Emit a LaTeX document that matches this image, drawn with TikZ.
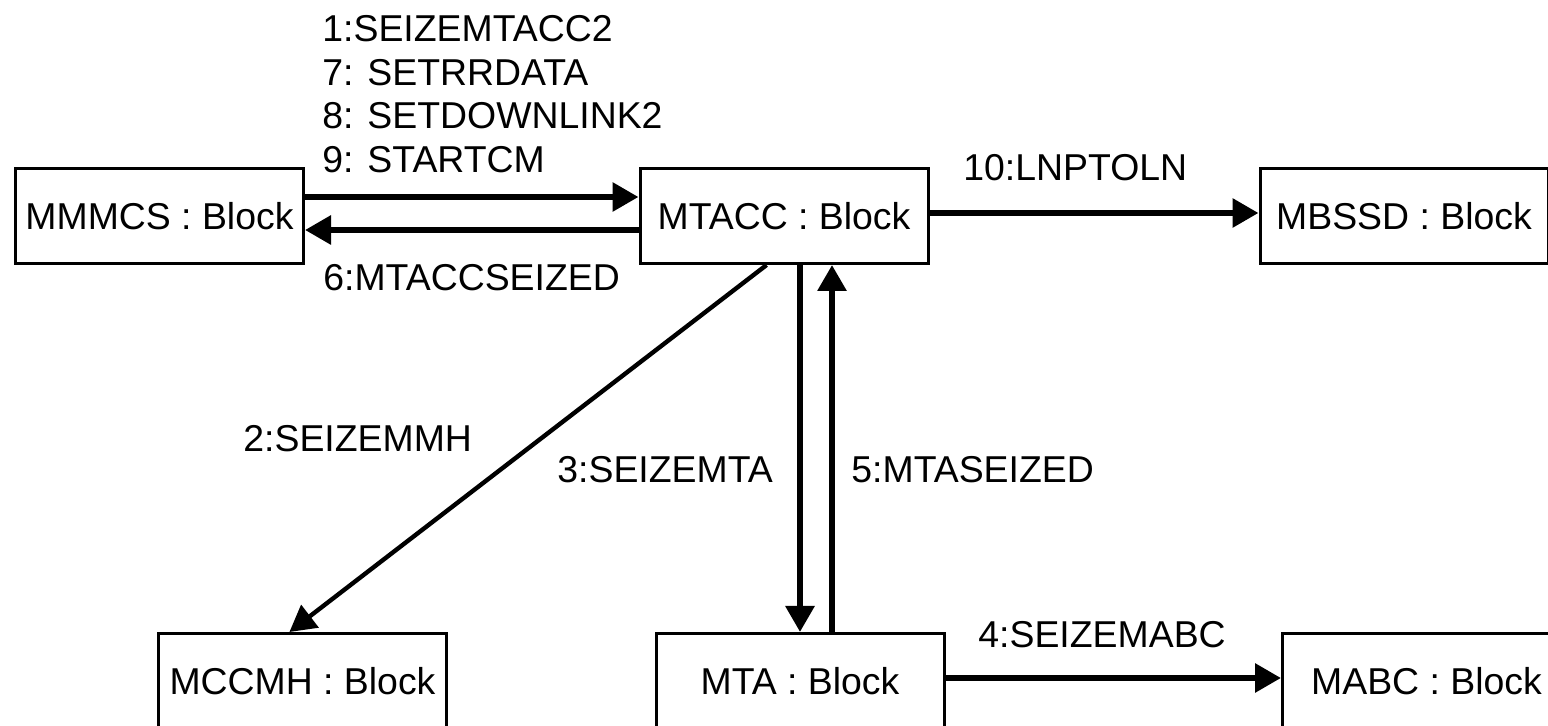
\documentclass[tikz,border=0pt]{standalone}
\usepackage{fontspec}
\setmainfont{Liberation Sans}
\usetikzlibrary{arrows.meta,calc}

\begin{document}
\begin{tikzpicture}[x=0.5pt, y=-0.5pt,
  font=\fontsize{18.7pt}{21.75pt}\selectfont,
  block/.style={draw, line width=1.5pt, minimum width=144pt, minimum height=47.5pt, inner sep=0pt},
  msg/.style={anchor=west, inner sep=0pt},
  arr/.style={line width=3pt, -{Triangle[length=13pt,width=14pt]}}]
\useasboundingbox (0,0) rectangle (1548,726);

\node[block] at (159.5,216) (mmmcs) {MMMCS : Block};
\node[block] at (784,216) (mtacc) {MTACC : Block};
\node[block] at (1404,216) (mbssd) {MBSSD : Block};
\node[block] at (302.5,681) (mccmh) {MCCMH : Block};
\node[block] at (800,681) (mta) {MTA : Block};
\node[block] at (1426.5,681) (mabc) {MABC : Block};

\draw[arr] ([yshift=9.5pt]mmmcs.east) -- ([yshift=9.5pt]mmmcs.east -| mtacc.west);
\draw[arr] ([yshift=-7pt]mtacc.west) -- ([yshift=-7pt]mtacc.west -| mmmcs.east);
\draw[arr] ([yshift=1.5pt]mtacc.east) -- ([yshift=1.5pt]mbssd.west);
\draw[line width=2.2pt, -{Triangle[length=13pt,width=14pt]}]
  ($(mtacc.south west)!0.44!(mtacc.south east)$) -- ($(mccmh.north west)!0.455!(mccmh.north east)$);
\draw[arr] (mtacc.south -| mta.north) -- (mta.north);
\draw[arr] ([xshift=16pt]mta.north) -- ([xshift=16pt]mta.north |- mtacc.south);
\draw[arr] ([yshift=1.5pt]mta.east) -- ([yshift=1.5pt]mabc.west);

\node[msg, anchor=north west, align=left] at (322,15) (req)
  {1:SEIZEMTACC2\\7: SETRRDATA\\8: SETDOWNLINK2\\9: STARTCM};
\node[msg] at (323,278) (ackcc) {6:MTACCSEIZED};
\node[msg] at (963,168) (lnp) {10:LNPTOLN};
\node[msg] at (243,439) (semmh) {2:SEIZEMMH};
\node[msg] at (557,470) (semta) {3:SEIZEMTA};
\node[msg] at (851,470) (ackta) {5:MTASEIZED};
\node[msg] at (978,635) (seabc) {4:SEIZEMABC};
\end{tikzpicture}
\end{document}
